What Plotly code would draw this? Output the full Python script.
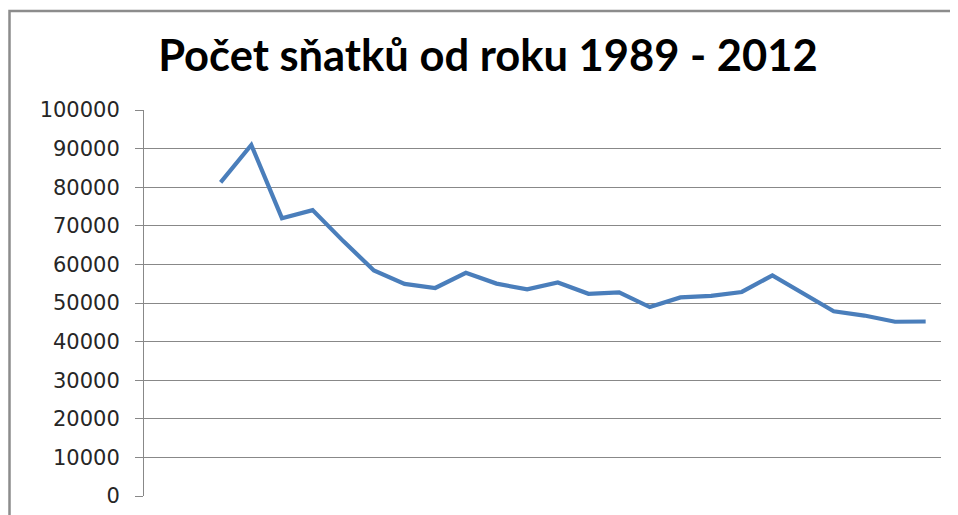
import plotly.graph_objects as go

years = list(range(1989, 2013))
marriages = [81262, 90953, 71973, 74060, 66033, 58440, 54956, 53896, 57804, 55027,
             53523, 55321, 52374, 52732, 48943, 51447, 51829, 52860, 57157, 52457,
             47862, 46746, 45137, 45206]
y_ticks = list(range(0, 100001, 10000))

fig = go.Figure()
fig.add_trace(go.Scatter(x=years, y=marriages, mode="lines",
                         line=dict(color="#4a7ebb", width=4.2), showlegend=False))

# page body has an 8px margin; compensate so the photo matches
OFF = 8
W, H = 958, 515
L, T = 144 - OFF, 110 - OFF
R = W - (941 - OFF)
B = H - (496 - OFF)
pw, ph = W - L - R, H - T - B

def px2x(p):
    return (p - OFF - L) / pw

def py2y(p):
    return (H - B - (p - OFF)) / ph

fig.update_layout(
    width=W, height=H,
    margin=dict(l=L, r=R, t=T, b=B),
    paper_bgcolor="white", plot_bgcolor="white",
    title=dict(text="<b>Počet sňatků od roku 1989 - 2012</b>",
               x=(488 - OFF) / W, xanchor="center", xref="container",
               y=1 - (56 - OFF) / H, yanchor="middle",
               font=dict(family="Lato", size=43.5, color="black")),
    xaxis=dict(range=[1986.5, 2012.5], showticklabels=False, showgrid=False,
               zeroline=False, showline=False, ticks=""),
    yaxis=dict(range=[0, 100000], tickvals=y_ticks, ticktext=[str(v) for v in y_ticks],
               showgrid=True, gridcolor="#888888", gridwidth=1,
               zeroline=False, showline=True, linecolor="#888888", linewidth=1,
               ticks="outside", ticklen=8, tickcolor="#888888",
               ticklabelstandoff=11,
               tickfont=dict(family="DejaVu Sans", size=21, color="#262626")),
    shapes=[dict(type="rect", xref="paper", yref="paper",
                 x0=px2x(9.5), x1=px2x(1000), y0=py2y(560), y1=py2y(11),
                 line=dict(color="#8c8c8c", width=2.5), layer="below")],
)

fig.write_html("out.html")
